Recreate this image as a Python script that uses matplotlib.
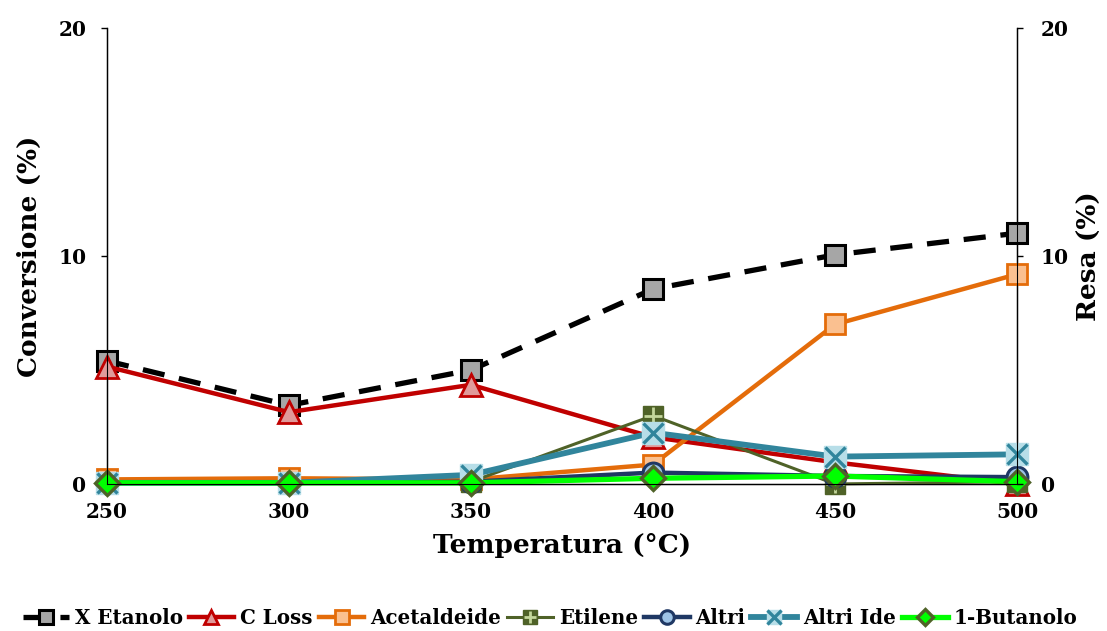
import matplotlib
matplotlib.use("Agg")
import matplotlib.pyplot as plt
from matplotlib.legend_handler import HandlerTuple

plt.rcParams['font.family'] = ['DejaVu Serif']
plt.rcParams['font.weight'] = 'bold'

temperature = [250, 300, 350, 400, 450, 500]
x_etanolo = [5.4, 3.45, 5.0, 8.55, 10.05, 11.0]
c_loss = [5.15, 3.15, 4.35, 2.05, 0.95, 0.0]
acetaldeide = [0.2, 0.25, 0.2, 0.85, 7.0, 9.2]
etilene = [0.05, 0.05, 0.1, 3.0, 0.0, 0.1]
altri = [0.05, 0.05, 0.1, 0.5, 0.35, 0.3]
altri_ide = [0.05, 0.05, 0.4, 2.25, 1.2, 1.3]
butanolo = [0.05, 0.05, 0.05, 0.25, 0.35, 0.1]

fig = plt.figure(figsize=(11.07, 6.31), dpi=100)
ax = fig.add_axes([0.0967, 0.233, 0.822, 0.7226])
xs = list(range(len(temperature)))

ms = 15
kw = dict(clip_on=False)
h_et, = ax.plot(xs, x_etanolo, color='black', lw=3.8, ls=(0, (4.2, 2.8)), marker='s', ms=ms,
                mfc='#a6a6a6', mec='black', mew=2.2, zorder=3, **kw)
h_cl, = ax.plot(xs, c_loss, color='#c00000', lw=3.2, marker='^', ms=ms + 1,
                mfc='#e09a9a', mec='#c00000', mew=2.0, zorder=4, **kw)
h_ac, = ax.plot(xs, acetaldeide, color='#e46c0a', lw=3.2, marker='s', ms=ms,
                mfc='#fac090', mec='#e46c0a', mew=2.0, zorder=5, **kw)
h_ei, = ax.plot(xs, etilene, color='#4f6228', lw=2.2, marker='s', ms=ms,
                mfc='#4f6228', mec='#4f6228', mew=1.0, zorder=6, **kw)
h_ei2, = ax.plot(xs, etilene, ls='none', marker='+', ms=ms - 2, mec='#c3d69b', mew=2.0,
                 zorder=6, **kw)
h_al, = ax.plot(xs, altri, color='#1f3864', lw=3.2, marker='o', ms=ms,
                mfc='#9dc3e6', mec='#1f3864', mew=2.2, zorder=7, **kw)
h_ai, = ax.plot(xs, altri_ide, color='#31859c', lw=4.2, marker='s', ms=ms + 1,
                mfc='#b7dee8', mec='#b7dee8', mew=1.0, zorder=8, **kw)
h_ai2, = ax.plot(xs, altri_ide, ls='none', marker='x', ms=ms, mec='#31859c', mew=2.4,
                 zorder=8, **kw)
h_bu, = ax.plot(xs, butanolo, color='#00ff00', lw=3.8, marker='D', ms=ms - 3,
                mfc='#00ff00', mec='#4f6228', mew=2.4, zorder=9, **kw)

ax.set_xlim(0, len(temperature) - 1)
ax.set_ylim(0, 20)
ax.set_yticks([0, 10, 20])
ax.set_xticks(xs)
ax.set_xticklabels([str(t) for t in temperature])
ax.spines['top'].set_visible(False)
for s in ['left', 'right', 'bottom']:
    ax.spines[s].set_linewidth(1.0)
ax.tick_params(axis='x', length=0, pad=13, labelsize=14.5)
ax.tick_params(axis='y', direction='out', length=4, width=1.0, labelsize=14.5, pad=11)
for lab in ax.get_xticklabels() + ax.get_yticklabels():
    lab.set_fontweight('bold')

ax2 = ax.twinx()
ax2.set_ylim(0, 20)
ax2.set_yticks([0, 10, 20])
ax2.spines['top'].set_visible(False)
ax2.tick_params(axis='y', direction='out', length=4, width=1.0, labelsize=14.5, pad=13)
for lab in ax2.get_yticklabels():
    lab.set_fontweight('bold')

ax.set_xlabel('Temperatura (°C)', fontsize=19, fontweight='bold', labelpad=8)
ax.set_ylabel('Conversione (%)', fontsize=19, fontweight='bold', labelpad=12)
ax2.set_ylabel('Resa (%)', fontsize=19, fontweight='bold', labelpad=6)

series_names = ['X Etanolo', 'C Loss', 'Acetaldeide', 'Etilene', 'Altri', 'Altri Ide', '1-Butanolo']
handles = [h_et, h_cl, h_ac, (h_ei, h_ei2), h_al, (h_ai, h_ai2), h_bu]
leg = fig.legend(handles, series_names, loc='center', bbox_to_anchor=(0.497, 0.02),
                 ncol=7, frameon=False, fontsize=14.3, handlelength=2.3,
                 handletextpad=0.3, columnspacing=0.3, markerscale=0.65,
                 handler_map={tuple: HandlerTuple(ndivide=1)})
for t in leg.get_texts():
    t.set_fontweight('bold')

fig.savefig('out.png', dpi=100)
